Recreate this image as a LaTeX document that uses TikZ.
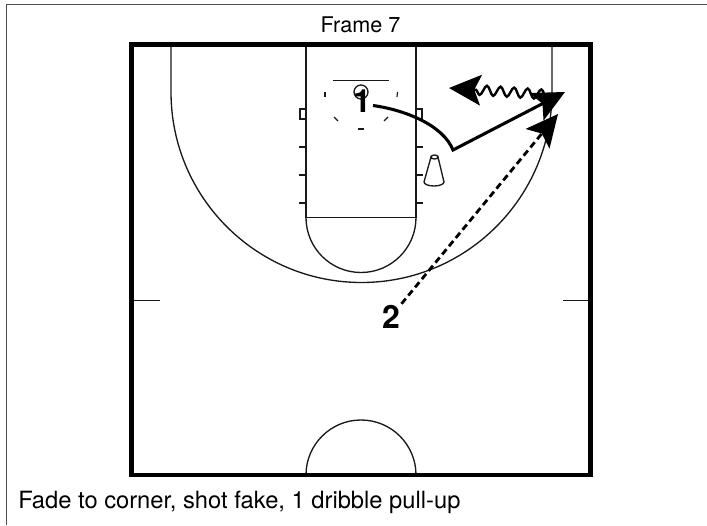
\documentclass[tikz,border=0pt]{standalone}
\usepackage{fontspec}
\setmainfont{TeX Gyre Heros}
\usetikzlibrary{arrows.meta,decorations.pathmorphing}

\begin{document}
\begin{tikzpicture}[
    x=0.75pt,y=-0.75pt,
    every node/.style={font=\fontsize{16.2}{19}\selectfont},
    courtline/.style={line width=1pt,black!90},
    courtedge/.style={line width=3.4pt,black,line join=miter},
    keymark/.style={line width=0.85pt,black!90},
    player/.style={font=\fontsize{24}{27}\selectfont\bfseries,inner sep=1pt},
    cut/.style={line width=2.3pt,line join=miter,-{Stealth[length=24pt,width=23pt,inset=5pt]}},
    screenpath/.style={cut,line width=2.1pt,dash pattern=on 5pt off 3pt},
    dribble/.style={cut,line width=1.8pt,decorate,decoration={snake,amplitude=3.6pt,segment length=10.2pt,post length=20pt}},
]
\useasboundingbox (0,0) rectangle (707,525);

% Outer frame, open on the right and at the bottom
\draw[line width=0.75pt,black!70] (6.5,525) -- (6.5,4) -- (707,4);

% Titles
\node (title) at (360.5,25) {Frame 7};
\node[anchor=west,inner sep=0pt,font=\fontsize{17.8}{21}\selectfont] (caption) at (18,502) {Fade to corner, shot fake, 1 dribble pull-up};

% Court
\draw[courtline] (306,45) -- (306,217.5) -- (416,217.5) -- (416,45);
\draw[courtline] (416,217.5) arc[start angle=0,end angle=180,radius=55];
\draw[courtline] (306,475) arc[start angle=180,end angle=360,radius=55];
\draw[courtline] (171,45) -- (171,92) arc[start angle=180,end angle=0,radius=190.5] -- (552,45);
\draw[courtline] (133,300.5) -- (160,300.5);
\draw[courtline] (563,300.5) -- (590,300.5);
\draw[courtedge] (131.75,44.7) rectangle (590.3,475.2);

% Lane marks and blocks
\foreach \ypos in {147,175,203} {
    \draw[keymark] (299,\ypos) -- (306,\ypos);
    \draw[keymark] (416,\ypos) -- (423,\ypos);
}
\draw[keymark] (300,109) rectangle (306,119);
\draw[keymark] (416,109) rectangle (422,119);

% Backboard, hoop and restricted marks
\draw[courtline] (333,80.5) -- (389,80.5);
\draw[courtline] (361,92) circle[radius=7];
\draw[keymark] (325,92) -- (325,97);
\draw[keymark] (397.5,92) -- (397,97);
\draw[keymark] (334,117) -- (338,121);
\draw[keymark] (388,117) -- (384,121);
\draw[keymark] (358,129) -- (364,129);

% Cone
\draw[courtline] (431,157) arc[start angle=180,end angle=0,x radius=3.5,y radius=2]
    -- (444,182) arc[start angle=0,end angle=180,x radius=10,y radius=4] -- cycle;
\draw[courtline] (431,157) arc[start angle=180,end angle=360,x radius=3.5,y radius=2];

% Players
\node[player] (one) at (362,101) {1};
\node[player] (two) at (391,316.5) {2};
\coordinate (corner) at (565,92);
\coordinate (shotfake) at (558,114);
\coordinate (pullup) at (449,88);

% Movement
\draw[cut] (373,105.5) .. controls (405,110) and (443,125) .. (453,150) -- (corner);
\draw[screenpath] (two) -- (shotfake);
\draw[dribble] (552,95) -- (pullup);
\end{tikzpicture}
\end{document}
